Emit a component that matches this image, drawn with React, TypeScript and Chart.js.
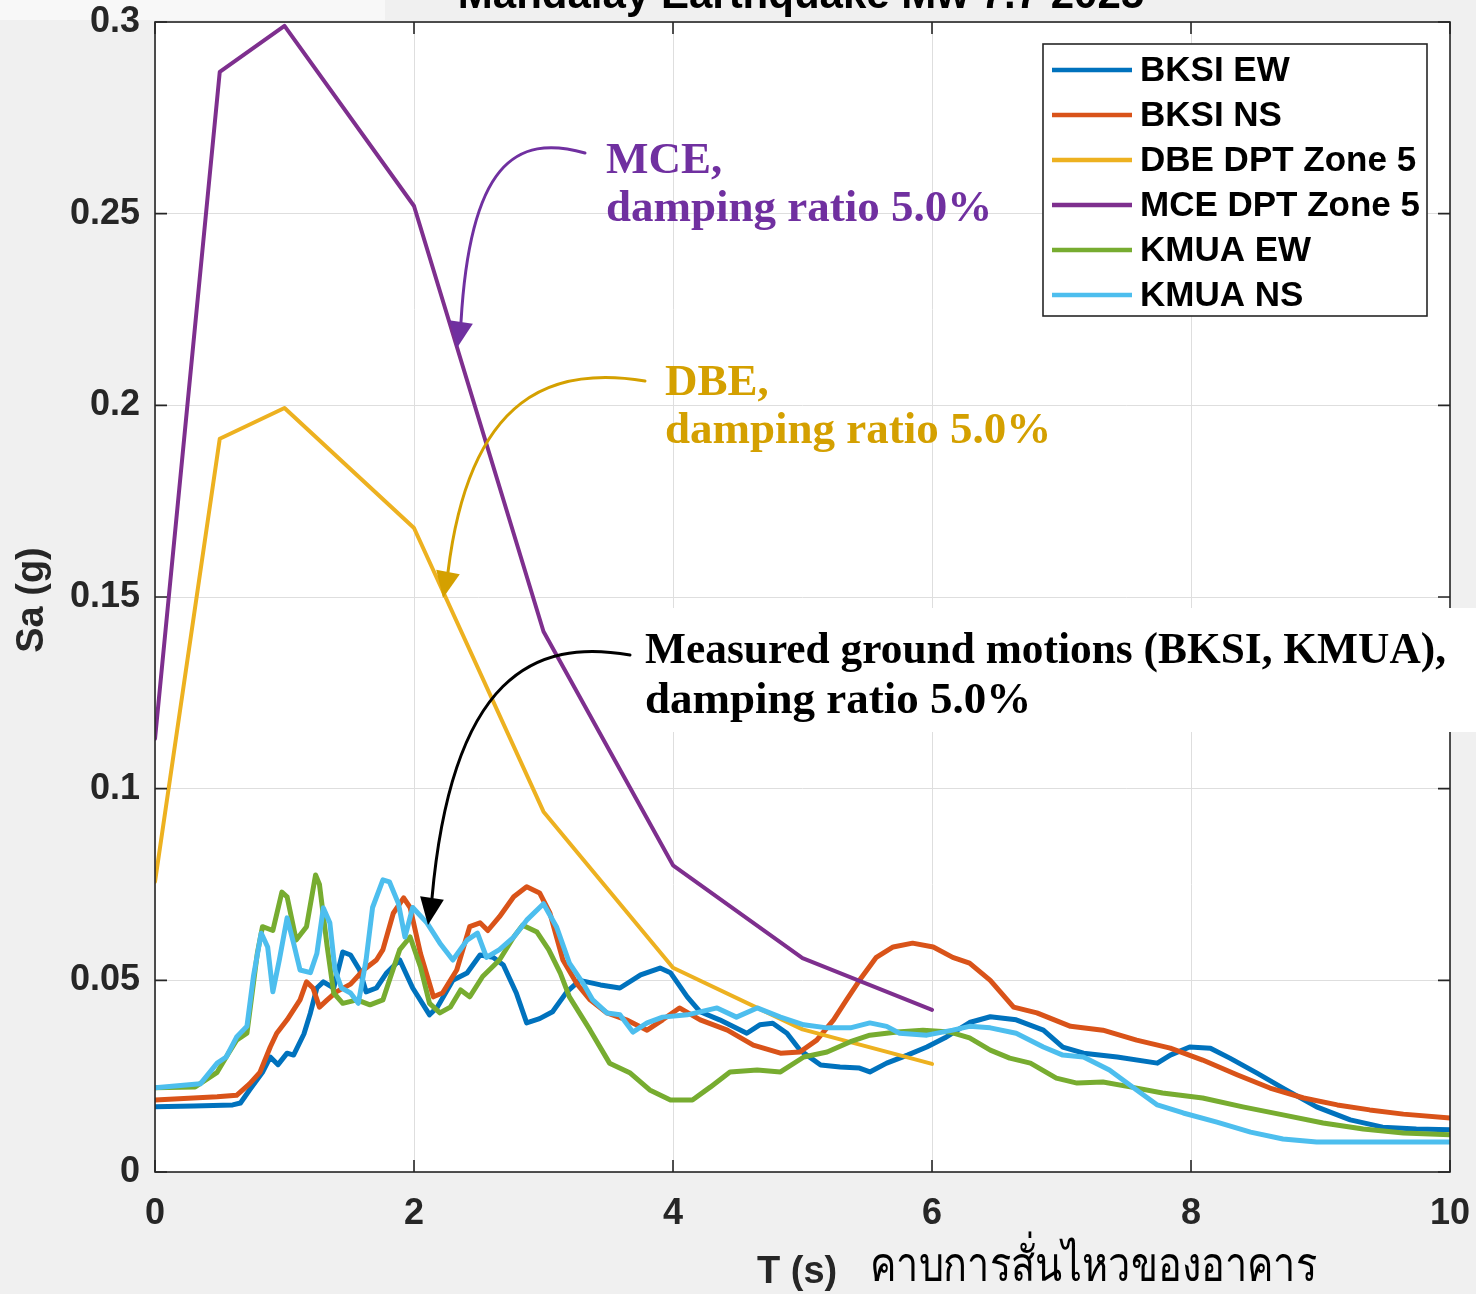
import React, { useEffect, useRef } from "react";
import { Chart, registerables } from "chart.js";

Chart.register(...registerables);

// ---------- data ----------
const TITLE = "Mandalay Earthquake Mw 7.7 2025";
const SERIES_LABELS = ["BKSI EW", "BKSI NS", "DBE DPT Zone 5", "MCE DPT Zone 5", "KMUA EW", "KMUA NS"];
const SERIES_COLORS = ["#0072BD", "#D95319", "#EDB120", "#7E2F8E", "#77AC30", "#4DBEEE"];
const X_TICKS = [0, 2, 4, 6, 8, 10];
const Y_TICKS = [0, 0.05, 0.1, 0.15, 0.2, 0.25, 0.3];
const X_TITLE = "T (s)";
const X_TITLE_TH = "คาบการสั่นไหวของอาคาร";
const Y_TITLE = "Sa (g)";

const T_CODE = [0, 0.5, 1, 2, 3, 4, 5, 6];
const SA_MCE = [0.113, 0.287, 0.299, 0.252, 0.141, 0.080, 0.0558, 0.0423];
const SA_DBE = [0.0757, 0.1913, 0.1993, 0.168, 0.094, 0.0533, 0.0372, 0.0282];

const T_BKSI_EW = [0, 0.3, 0.6, 0.66, 0.73, 0.83, 0.89, 0.95, 1.02, 1.07, 1.15, 1.2, 1.25, 1.3, 1.38, 1.45, 1.51, 1.58, 1.63, 1.71, 1.79, 1.89, 1.99, 2.12, 2.18, 2.3, 2.41, 2.51, 2.61, 2.69, 2.79, 2.87, 2.97, 3.07, 3.18, 3.28, 3.44, 3.59, 3.75, 3.9, 3.98, 4.11, 4.21, 4.36, 4.57, 4.67, 4.77, 4.88, 4.98, 5.14, 5.29, 5.44, 5.52, 5.65, 5.81, 5.96, 6.1, 6.29, 6.45, 6.65, 6.86, 7.01, 7.17, 7.43, 7.74, 7.84, 7.99, 8.15, 8.3, 8.51, 8.71, 8.97, 9.23, 9.48, 9.74, 10];
const SA_BKSI_EW = [0.017, 0.0172, 0.0175, 0.018, 0.0214, 0.026, 0.03, 0.028, 0.031, 0.0305, 0.036, 0.0415, 0.048, 0.0496, 0.048, 0.0574, 0.0566, 0.0527, 0.047, 0.048, 0.052, 0.0553, 0.048, 0.041, 0.043, 0.05, 0.0519, 0.0566, 0.056, 0.054, 0.0467, 0.0389, 0.04, 0.0418, 0.047, 0.05, 0.0488, 0.048, 0.0514, 0.0532, 0.052, 0.0457, 0.0418, 0.0397, 0.0362, 0.0384, 0.0388, 0.0362, 0.0318, 0.0279, 0.0274, 0.0271, 0.0261, 0.0284, 0.0305, 0.0326, 0.035, 0.039, 0.0405, 0.0397, 0.037, 0.0326, 0.031, 0.03, 0.0284, 0.0305, 0.0326, 0.0323, 0.0297, 0.0258, 0.0219, 0.017, 0.0136, 0.0117, 0.0112, 0.011];

const T_BKSI_NS = [0, 0.48, 0.63, 0.73, 0.81, 0.89, 0.94, 1.02, 1.07, 1.12, 1.17, 1.22, 1.27, 1.33, 1.4, 1.51, 1.61, 1.71, 1.76, 1.84, 1.92, 1.97, 2.05, 2.15, 2.22, 2.33, 2.43, 2.51, 2.57, 2.66, 2.77, 2.87, 2.97, 3.05, 3.15, 3.26, 3.36, 3.49, 3.64, 3.8, 3.92, 4.05, 4.21, 4.42, 4.62, 4.83, 4.98, 5.11, 5.24, 5.34, 5.44, 5.57, 5.7, 5.85, 6.01, 6.16, 6.29, 6.45, 6.63, 6.81, 7.07, 7.32, 7.58, 7.84, 8.09, 8.36, 8.61, 8.87, 9.13, 9.38, 9.64, 10];
const SA_BKSI_NS = [0.0188, 0.0196, 0.02, 0.023, 0.026, 0.0326, 0.0362, 0.0397, 0.0423, 0.0449, 0.0496, 0.048, 0.043, 0.0449, 0.047, 0.049, 0.0527, 0.0553, 0.058, 0.0675, 0.0715, 0.069, 0.057, 0.0457, 0.0467, 0.0527, 0.064, 0.065, 0.063, 0.0666, 0.0718, 0.0744, 0.0728, 0.0675, 0.0553, 0.049, 0.0449, 0.0415, 0.0397, 0.037, 0.0397, 0.0428, 0.0397, 0.037, 0.0331, 0.031, 0.0313, 0.0344, 0.0397, 0.0449, 0.05, 0.056, 0.0587, 0.0597, 0.0587, 0.056, 0.0545, 0.05, 0.043, 0.0415, 0.038, 0.037, 0.0344, 0.0323, 0.0292, 0.0253, 0.0219, 0.0193, 0.0175, 0.0162, 0.0151, 0.0141];

const T_KMUA_EW = [0, 0.31, 0.48, 0.55, 0.63, 0.71, 0.79, 0.83, 0.91, 0.98, 1.02, 1.09, 1.17, 1.24, 1.27, 1.33, 1.38, 1.45, 1.56, 1.66, 1.76, 1.81, 1.89, 1.97, 2.05, 2.12, 2.2, 2.28, 2.36, 2.43, 2.53, 2.66, 2.77, 2.84, 2.95, 3.04, 3.13, 3.2, 3.36, 3.51, 3.67, 3.82, 3.98, 4.15, 4.29, 4.44, 4.65, 4.83, 5.01, 5.19, 5.37, 5.52, 5.73, 5.93, 6.14, 6.29, 6.45, 6.6, 6.76, 6.96, 7.12, 7.32, 7.53, 7.78, 8.09, 8.4, 8.71, 9.02, 9.33, 9.64, 10];
const SA_KMUA_EW = [0.022, 0.0222, 0.026, 0.03, 0.0344, 0.0362, 0.057, 0.064, 0.063, 0.073, 0.0718, 0.0605, 0.064, 0.0775, 0.075, 0.0587, 0.0467, 0.044, 0.0449, 0.0436, 0.0449, 0.05, 0.058, 0.0613, 0.0535, 0.044, 0.0415, 0.043, 0.0475, 0.0457, 0.051, 0.0553, 0.0613, 0.0644, 0.0626, 0.058, 0.0519, 0.0457, 0.037, 0.0284, 0.0258, 0.0214, 0.0188, 0.0188, 0.0222, 0.0261, 0.0266, 0.0261, 0.03, 0.0313, 0.034, 0.0357, 0.0365, 0.037, 0.0365, 0.035, 0.0318, 0.0297, 0.0284, 0.0245, 0.0232, 0.0235, 0.0222, 0.0206, 0.0193, 0.017, 0.0149, 0.0128, 0.0112, 0.0102, 0.0097];

const T_KMUA_NS = [0, 0.35, 0.48, 0.55, 0.63, 0.71, 0.76, 0.82, 0.87, 0.91, 0.96, 1.02, 1.07, 1.12, 1.2, 1.25, 1.3, 1.35, 1.39, 1.44, 1.51, 1.57, 1.63, 1.68, 1.76, 1.81, 1.88, 1.93, 1.99, 2.1, 2.2, 2.3, 2.41, 2.49, 2.56, 2.66, 2.77, 2.87, 3.0, 3.1, 3.2, 3.31, 3.38, 3.49, 3.59, 3.69, 3.8, 3.92, 4.05, 4.11, 4.34, 4.49, 4.65, 4.83, 5.01, 5.19, 5.37, 5.52, 5.65, 5.75, 5.96, 6.16, 6.29, 6.45, 6.65, 6.86, 7.01, 7.17, 7.37, 7.58, 7.74, 7.94, 8.2, 8.46, 8.71, 8.97, 9.48, 10];
const SA_KMUA_NS = [0.022, 0.023, 0.0284, 0.03, 0.0352, 0.038, 0.051, 0.0623, 0.0587, 0.047, 0.0553, 0.0663, 0.0597, 0.0527, 0.052, 0.057, 0.0689, 0.065, 0.0527, 0.048, 0.0467, 0.044, 0.0553, 0.069, 0.0762, 0.0757, 0.07, 0.0613, 0.069, 0.065, 0.0597, 0.0553, 0.0605, 0.0623, 0.056, 0.058, 0.0613, 0.0657, 0.07, 0.064, 0.0545, 0.049, 0.0449, 0.0415, 0.041, 0.0365, 0.0389, 0.0404, 0.0408, 0.041, 0.0428, 0.0404, 0.0428, 0.0404, 0.0384, 0.0376, 0.0376, 0.0389, 0.038, 0.0362, 0.0357, 0.037, 0.038, 0.0376, 0.0362, 0.0326, 0.0305, 0.03, 0.0266, 0.0214, 0.0175, 0.0154, 0.013, 0.0104, 0.0086, 0.0078, 0.0078, 0.0078];

const ANNOT_MCE = ["MCE,", "damping ratio 5.0%"];
const ANNOT_DBE = ["DBE,", "damping ratio 5.0%"];
const ANNOT_MEAS = ["Measured ground motions (BKSI, KMUA),", "damping ratio 5.0%"];

// ---------- helpers ----------
const W = 1476;
const H = 1294;
const SANS = '"Liberation Sans", Arial, Helvetica, sans-serif';
const SERIF = '"Liberation Serif", "Times New Roman", serif';
const AXIS_COLOR = "#262626";

function pts(xs: number[], ys: number[]) {
  return xs.map((x, i) => ({ x, y: ys[i] }));
}

function drawArrow(
  ctx: CanvasRenderingContext2D,
  p: number[],
  tip: number[],
  color: string
) {
  const [sx, sy, c1x, c1y, c2x, c2y, ex, ey] = p;
  ctx.save();
  ctx.strokeStyle = color;
  ctx.fillStyle = color;
  ctx.lineWidth = 3;
  ctx.lineCap = "round";
  ctx.beginPath();
  ctx.moveTo(sx, sy);
  ctx.bezierCurveTo(c1x, c1y, c2x, c2y, ex, ey);
  ctx.stroke();
  const dx = tip[0] - ex;
  const dy = tip[1] - ey;
  const len = Math.hypot(dx, dy);
  const nx = -dy / len;
  const ny = dx / len;
  const hw = 12;
  ctx.beginPath();
  ctx.moveTo(tip[0], tip[1]);
  ctx.lineTo(ex + nx * hw, ey + ny * hw);
  ctx.lineTo(ex - nx * hw, ey - ny * hw);
  ctx.closePath();
  ctx.fill();
  ctx.restore();
}

const decorPlugin = {
  id: "decor",
  beforeDraw(chart: any) {
    const { ctx, chartArea: a } = chart;
    ctx.save();
    ctx.fillStyle = "#f0f0f0";
    ctx.fillRect(0, 0, chart.width, chart.height);
    ctx.fillStyle = "#f8f8f8";
    ctx.fillRect(0, 0, 385, 20);
    ctx.fillStyle = "#ffffff";
    ctx.fillRect(a.left, a.top, a.right - a.left, a.bottom - a.top);
    ctx.restore();
  },
  afterDatasetsDraw(chart: any) {
    const { ctx, chartArea: a, scales } = chart;
    const xs = scales.x;
    const ys = scales.y;
    ctx.save();

    // box + inward ticks
    ctx.strokeStyle = AXIS_COLOR;
    ctx.lineWidth = 1.6;
    ctx.strokeRect(a.left, a.top, a.right - a.left, a.bottom - a.top);
    const tl = 12;
    ctx.beginPath();
    X_TICKS.forEach((v) => {
      const px = xs.getPixelForValue(v);
      ctx.moveTo(px, a.bottom);
      ctx.lineTo(px, a.bottom - tl);
      ctx.moveTo(px, a.top);
      ctx.lineTo(px, a.top + tl);
    });
    Y_TICKS.forEach((v) => {
      const py = ys.getPixelForValue(v);
      ctx.moveTo(a.left, py);
      ctx.lineTo(a.left + tl, py);
      ctx.moveTo(a.right, py);
      ctx.lineTo(a.right - tl, py);
    });
    ctx.stroke();

    // legend
    const lx = 1043, ly = 44, lw = 384, lh = 272;
    ctx.fillStyle = "#ffffff";
    ctx.fillRect(lx, ly, lw, lh);
    ctx.strokeStyle = AXIS_COLOR;
    ctx.lineWidth = 1.6;
    ctx.strokeRect(lx, ly, lw, lh);
    ctx.font = `bold 35px ${SANS}`;
    ctx.textBaseline = "middle";
    ctx.textAlign = "left";
    chart.data.datasets.forEach((ds: any, i: number) => {
      const cy = 70 + i * 45;
      ctx.strokeStyle = ds.borderColor;
      ctx.lineWidth = 4.5;
      ctx.beginPath();
      ctx.moveTo(1052, cy);
      ctx.lineTo(1132, cy);
      ctx.stroke();
      ctx.fillStyle = "#000000";
      ctx.fillText(ds.label, 1140, cy + 1, 280);
    });

    // annotations
    ctx.textBaseline = "alphabetic";
    ctx.font = `bold 45px ${SERIF}`;
    ctx.fillStyle = "#7030A0";
    ctx.fillText(ANNOT_MCE[0], 606, 173);
    ctx.fillText(ANNOT_MCE[1], 606, 221, 387);
    drawArrow(ctx, [585, 153, 515, 133, 470, 165, 461, 322], [457, 348], "#7030A0");

    ctx.fillStyle = "#D4A000";
    ctx.fillText(ANNOT_DBE[0], 665, 395);
    ctx.fillText(ANNOT_DBE[1], 665, 443, 387);
    drawArrow(ctx, [645, 381, 555, 366, 470, 392, 448, 572], [443, 598], "#D4A000");

    ctx.fillStyle = "#ffffff";
    ctx.fillRect(636, 608, W - 636, 124);
    ctx.fillStyle = "#000000";
    ctx.fillText(ANNOT_MEAS[0], 645, 663, 801);
    ctx.fillText(ANNOT_MEAS[1], 645, 713, 387);
    drawArrow(ctx, [630, 655, 535, 638, 452, 675, 432, 898], [428, 925], "#000000");

    // title (partly cut off at the top)
    ctx.fillStyle = "#000000";
    ctx.font = `bold 42px ${SANS}`;
    ctx.textAlign = "center";
    ctx.fillText(TITLE, 801, 8);

    // axis titles
    ctx.fillStyle = AXIS_COLOR;
    ctx.font = `bold 38px ${SANS}`;
    ctx.textAlign = "left";
    ctx.fillText(X_TITLE, 757, 1283);
    ctx.fillStyle = "#000000";
    ctx.font = `48px ${SERIF}`;
    ctx.fillText(X_TITLE_TH, 870, 1281, 447);

    ctx.save();
    ctx.translate(33, 600);
    ctx.rotate(-Math.PI / 2);
    ctx.fillStyle = AXIS_COLOR;
    ctx.font = `bold 38px ${SANS}`;
    ctx.textAlign = "center";
    ctx.textBaseline = "middle";
    ctx.fillText(Y_TITLE, 0, 0);
    ctx.restore();

    ctx.restore();
  },
};

export default function App() {
  const ref = useRef<HTMLCanvasElement | null>(null);

  useEffect(() => {
    if (!ref.current) return;
    const mk = (i: number, data: any[], width: number) => ({
      label: SERIES_LABELS[i],
      data,
      borderColor: SERIES_COLORS[i],
      backgroundColor: SERIES_COLORS[i],
      borderWidth: width,
      pointRadius: 0,
      tension: 0,
      fill: false,
      order: 10 - i,
      borderJoinStyle: "round" as const,
      borderCapStyle: "round" as const,
    });
    const chart = new Chart(ref.current, {
      type: "line",
      data: {
        datasets: [
          mk(0, pts(T_BKSI_EW, SA_BKSI_EW), 5),
          mk(1, pts(T_BKSI_NS, SA_BKSI_NS), 5),
          mk(2, pts(T_CODE, SA_DBE), 4),
          mk(3, pts(T_CODE, SA_MCE), 4),
          mk(4, pts(T_KMUA_EW, SA_KMUA_EW), 5),
          mk(5, pts(T_KMUA_NS, SA_KMUA_NS), 5),
        ],
      },
      options: {
        responsive: false,
        animation: false,
        devicePixelRatio: 1,
        layout: { padding: { top: 22, right: 26, left: 0, bottom: 0 } },
        plugins: { legend: { display: false }, tooltip: { enabled: false }, title: { display: false } },
        scales: {
          x: {
            type: "linear",
            min: 0,
            max: 10,
            afterFit: (s: any) => {
              s.height = 122;
              s.paddingLeft = 0;
              s.paddingRight = 0;
            },
            afterBuildTicks: (s: any) => { s.ticks = X_TICKS.map((v) => ({ value: v })); },
            ticks: {
              autoSkip: false,
              maxRotation: 0,
              padding: 20,
              color: AXIS_COLOR,
              font: { family: SANS, size: 36, weight: "bold" },
              callback: (v: any) => String(v),
            },
            grid: { color: "#dedede", lineWidth: 1, drawTicks: false },
            border: { display: false },
          },
          y: {
            type: "linear",
            min: 0,
            max: 0.3,
            afterFit: (s: any) => {
              s.width = 155;
              s.paddingTop = 0;
              s.paddingBottom = 0;
            },
            afterBuildTicks: (s: any) => { s.ticks = Y_TICKS.map((v) => ({ value: v })); },
            ticks: {
              autoSkip: false,
              padding: 15,
              color: AXIS_COLOR,
              font: { family: SANS, size: 36, weight: "bold" },
              callback: (v: any) => String(parseFloat(Number(v).toFixed(2))),
            },
            grid: { color: "#dedede", lineWidth: 1, drawTicks: false },
            border: { display: false },
          },
        },
      },
      plugins: [decorPlugin],
    });
    return () => chart.destroy();
  }, []);

  return (
    <div style={{ position: "absolute", left: 0, top: 0, width: W, height: H, background: "#f0f0f0" }}>
      <canvas ref={ref} width={W} height={H} style={{ display: "block", width: W, height: H }} />
    </div>
  );
}
